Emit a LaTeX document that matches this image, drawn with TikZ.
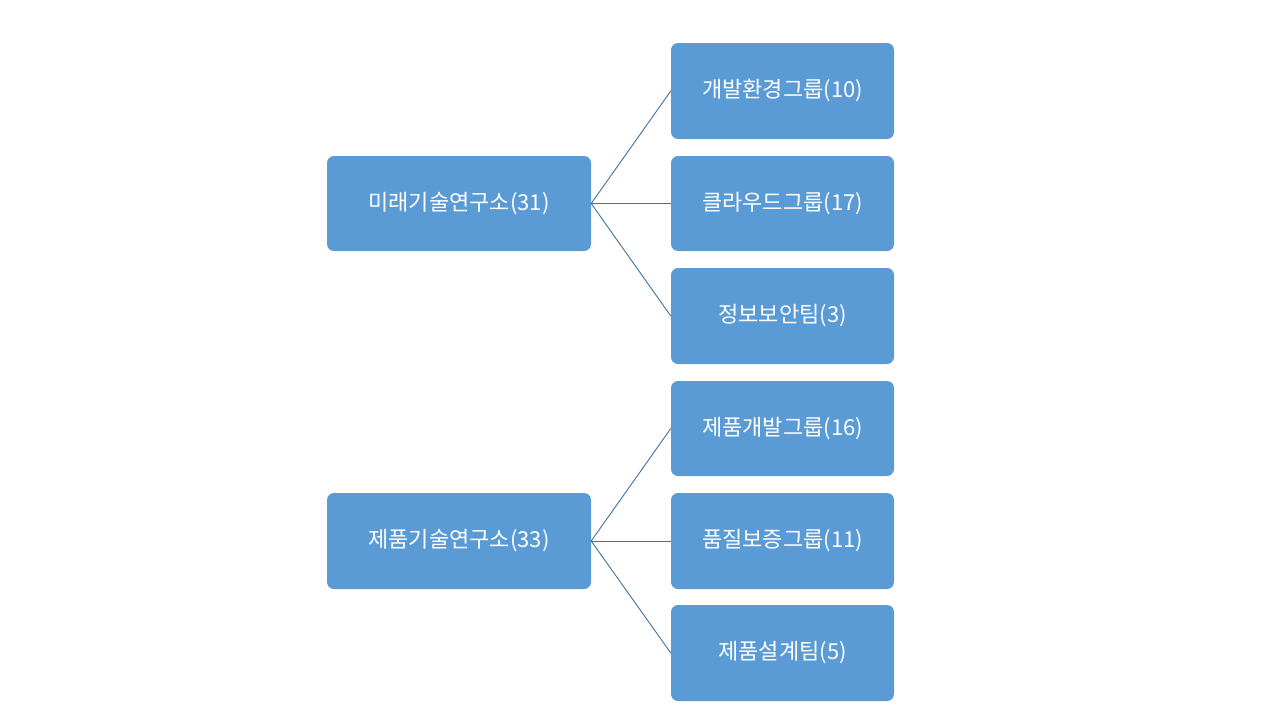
\documentclass[tikz,border=0pt]{standalone}
\usepackage{fontspec}
\setmainfont{Noto Sans CJK KR}
\begin{document}
\begin{tikzpicture}[x=1pt,y=-1pt,
  box/.style={fill={rgb,255:red,91;green,155;blue,213}, rounded corners=7pt, text=white, font=\fontsize{22}{26}\selectfont, inner sep=0pt},
  link/.style={draw={rgb,255:red,65;green,113;blue,156}, line width=0.9pt}]
\useasboundingbox (0,0) rectangle (1280,720);
\node[box, minimum width=264, minimum height=95] (a) at (459,203.5) {미래기술연구소(31)};
\node[box, minimum width=264, minimum height=96] (b) at (459,541) {제품기술연구소(33)};
\node[box, minimum width=223, minimum height=96] (a1) at (782.5,91) {개발환경그룹(10)};
\node[box, minimum width=223, minimum height=95] (a2) at (782.5,203.5) {클라우드그룹(17)};
\node[box, minimum width=223, minimum height=96] (a3) at (782.5,316) {정보보안팀(3)};
\node[box, minimum width=223, minimum height=95] (b1) at (782.5,428.5) {제품개발그룹(16)};
\node[box, minimum width=223, minimum height=96] (b2) at (782.5,541) {품질보증그룹(11)};
\node[box, minimum width=223, minimum height=96] (b3) at (782.5,653) {제품설계팀(5)};
\foreach \c in {a1,a2,a3} \draw[link] (a.east) -- (\c.west);
\foreach \c in {b1,b2,b3} \draw[link] (b.east) -- (\c.west);
\end{tikzpicture}
\end{document}
